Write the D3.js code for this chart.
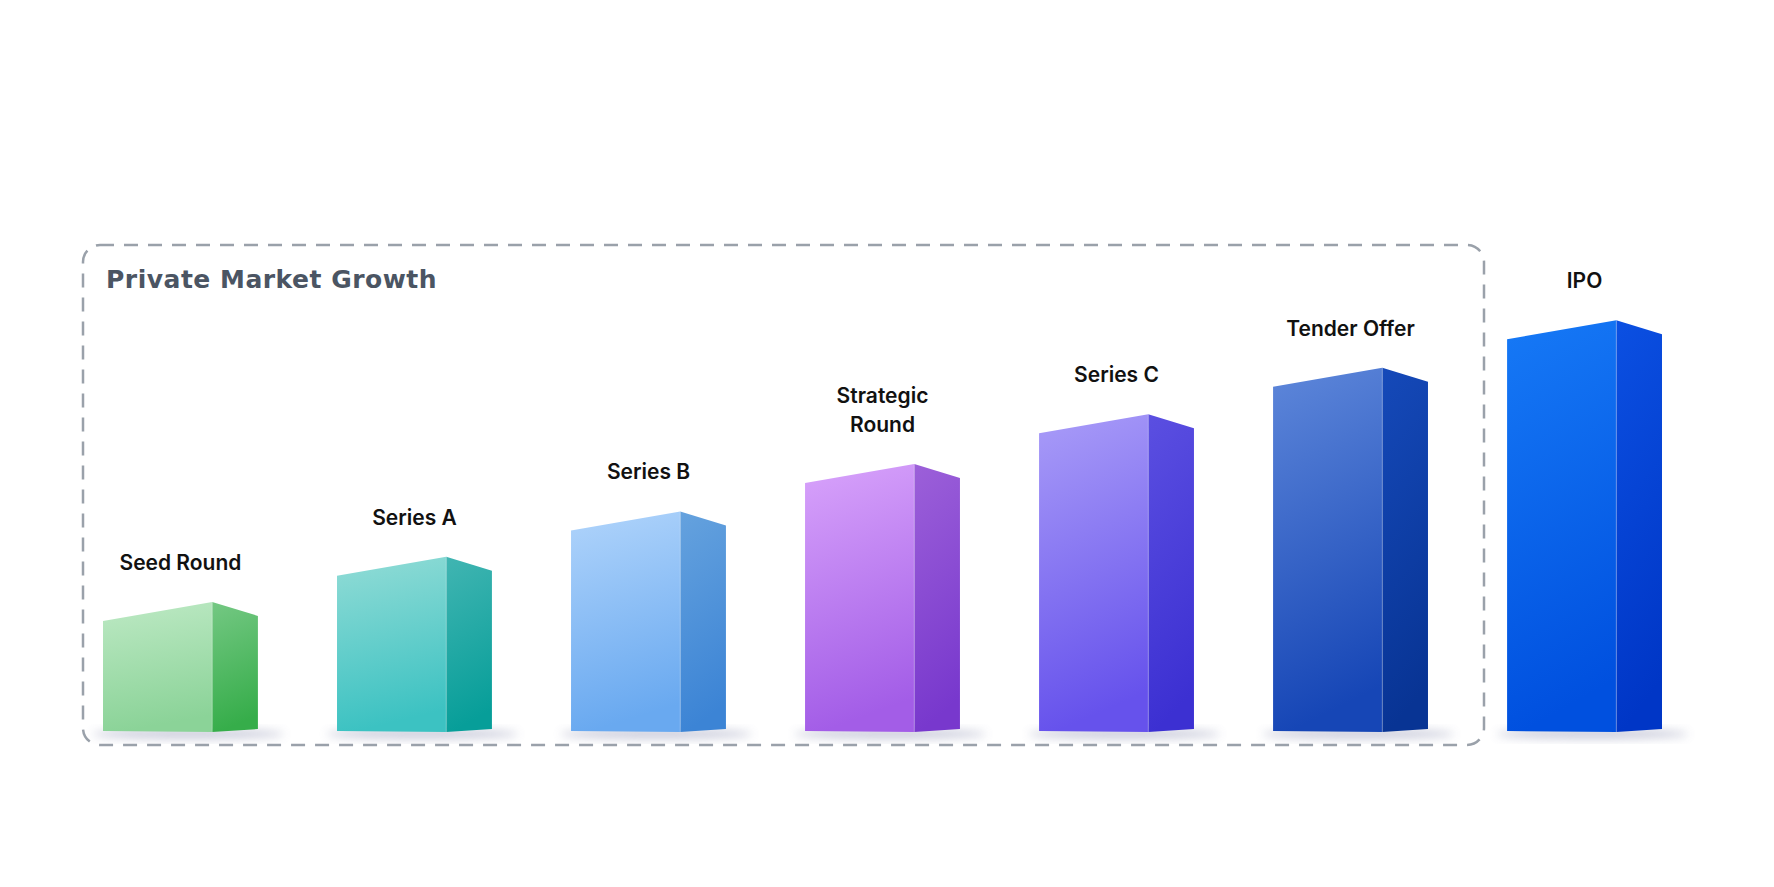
<!DOCTYPE html>
<html><head><meta charset="utf-8">
<script src="https://cdn.jsdelivr.net/npm/d3@7"></script>
<style>body{margin:0;background:#fff}svg{display:block}</style>
</head><body>
<svg id="c" width="1774" height="887"></svg>
<script>
const categories = ["Seed Round","Series A","Series B","Strategic Round","Series C","Tender Offer","IPO"];
const labelLines = [["Seed Round"],["Series A"],["Series B"],["Strategic","Round"],["Series C"],["Tender Offer"],["IPO"]];
const values = [115,155,195,237,281,322,364];
const frontTop = ["#bde9c4","#92dcd6","#b0d4fb","#d8a3fb","#a99cf8","#5e87da","#1679f6"];
const frontBot = ["#8bd398","#3cc2c2","#69a9f0","#a35de7","#6652ec","#1646b6","#0050df"];
const sideTop  = ["#74c883","#41b5b2","#65a2de","#9c60d9","#5b4fe1","#1549b9","#0b50e2"];
const sideBot  = ["#36ad4a","#079e99","#3c84d5","#7838cd","#3c30d2","#083494","#0036c6"];
const groupTitle = "Private Market Growth";

const svg = d3.select("#c");
const base = 732;
const x = d3.scaleBand().domain(categories).range([103,1662]).paddingInner(0.338).paddingOuter(0);
const y = d3.scaleLinear().domain([0,400]).range([base, base-400*1.131]);
const defs = svg.append("defs");
const blur = defs.append("filter").attr("id","blur").attr("x","-50%").attr("y","-50%").attr("width","200%").attr("height","200%");
blur.append("feGaussianBlur").attr("stdDeviation",5);
function grad(id,a,b){const g=defs.append("linearGradient").attr("id",id).attr("x1",0).attr("y1",0).attr("x2",0.15).attr("y2",1);
 g.append("stop").attr("offset",0).attr("stop-color",a);g.append("stop").attr("offset",1).attr("stop-color",b);}
categories.forEach((c,i)=>{grad("f"+i,frontTop[i],frontBot[i]);grad("s"+i,sideTop[i],sideBot[i]);});

// dashed group box
svg.append("rect").attr("x",83).attr("y",245).attr("width",1401).attr("height",500).attr("rx",17)
 .attr("fill","none").attr("stroke","#9aa1aa").attr("stroke-width",2.5).attr("stroke-dasharray","14,10");
svg.append("text").attr("x",106).attr("y",288).text(groupTitle)
 .attr("font-family","DejaVu Sans").attr("font-weight","bold").attr("font-size",25).attr("fill","#4b5563").attr("letter-spacing",0.5);

const g = svg.selectAll("g.bar").data(categories).join("g").attr("class","bar");
g.each(function(c,i){
  const s=d3.select(this);
  const x0=x(c), bw=x.bandwidth(), fw=bw*0.705, x1=x0+fw, x2=x0+bw;
  const peak=y(values[i]), tl=peak+19, sr=peak+14;
  s.append("ellipse").attr("cx",x0+bw*0.55).attr("cy",base+2).attr("rx",bw*0.62).attr("ry",5)
    .attr("fill","#8b8fb0").attr("opacity",0.45).attr("filter","url(#blur)");
  s.append("path").attr("d",`M${x0},${tl}L${x1},${peak}L${x1},${base}L${x0},${base-1}Z`).attr("fill",`url(#f${i})`);
  s.append("path").attr("d",`M${x1},${peak}L${x2},${sr}L${x2},${base-3}L${x1},${base}Z`).attr("fill",`url(#s${i})`);
  s.append("line").attr("x1",x1).attr("x2",x1).attr("y1",peak).attr("y2",base).attr("stroke","#fff").attr("stroke-opacity",0.25);
  const lines=labelLines[i];
  const t=s.append("text").attr("text-anchor","middle").attr("font-family","Inter, Lato, sans-serif")
   .attr("font-weight","600").attr("font-size",21).attr("fill","#111");
  lines.forEach((l,k)=>t.append("tspan").attr("x",x0+bw/2).attr("y",peak-32-(lines.length-1-k)*29).text(l));
});
</script>
</body></html>
